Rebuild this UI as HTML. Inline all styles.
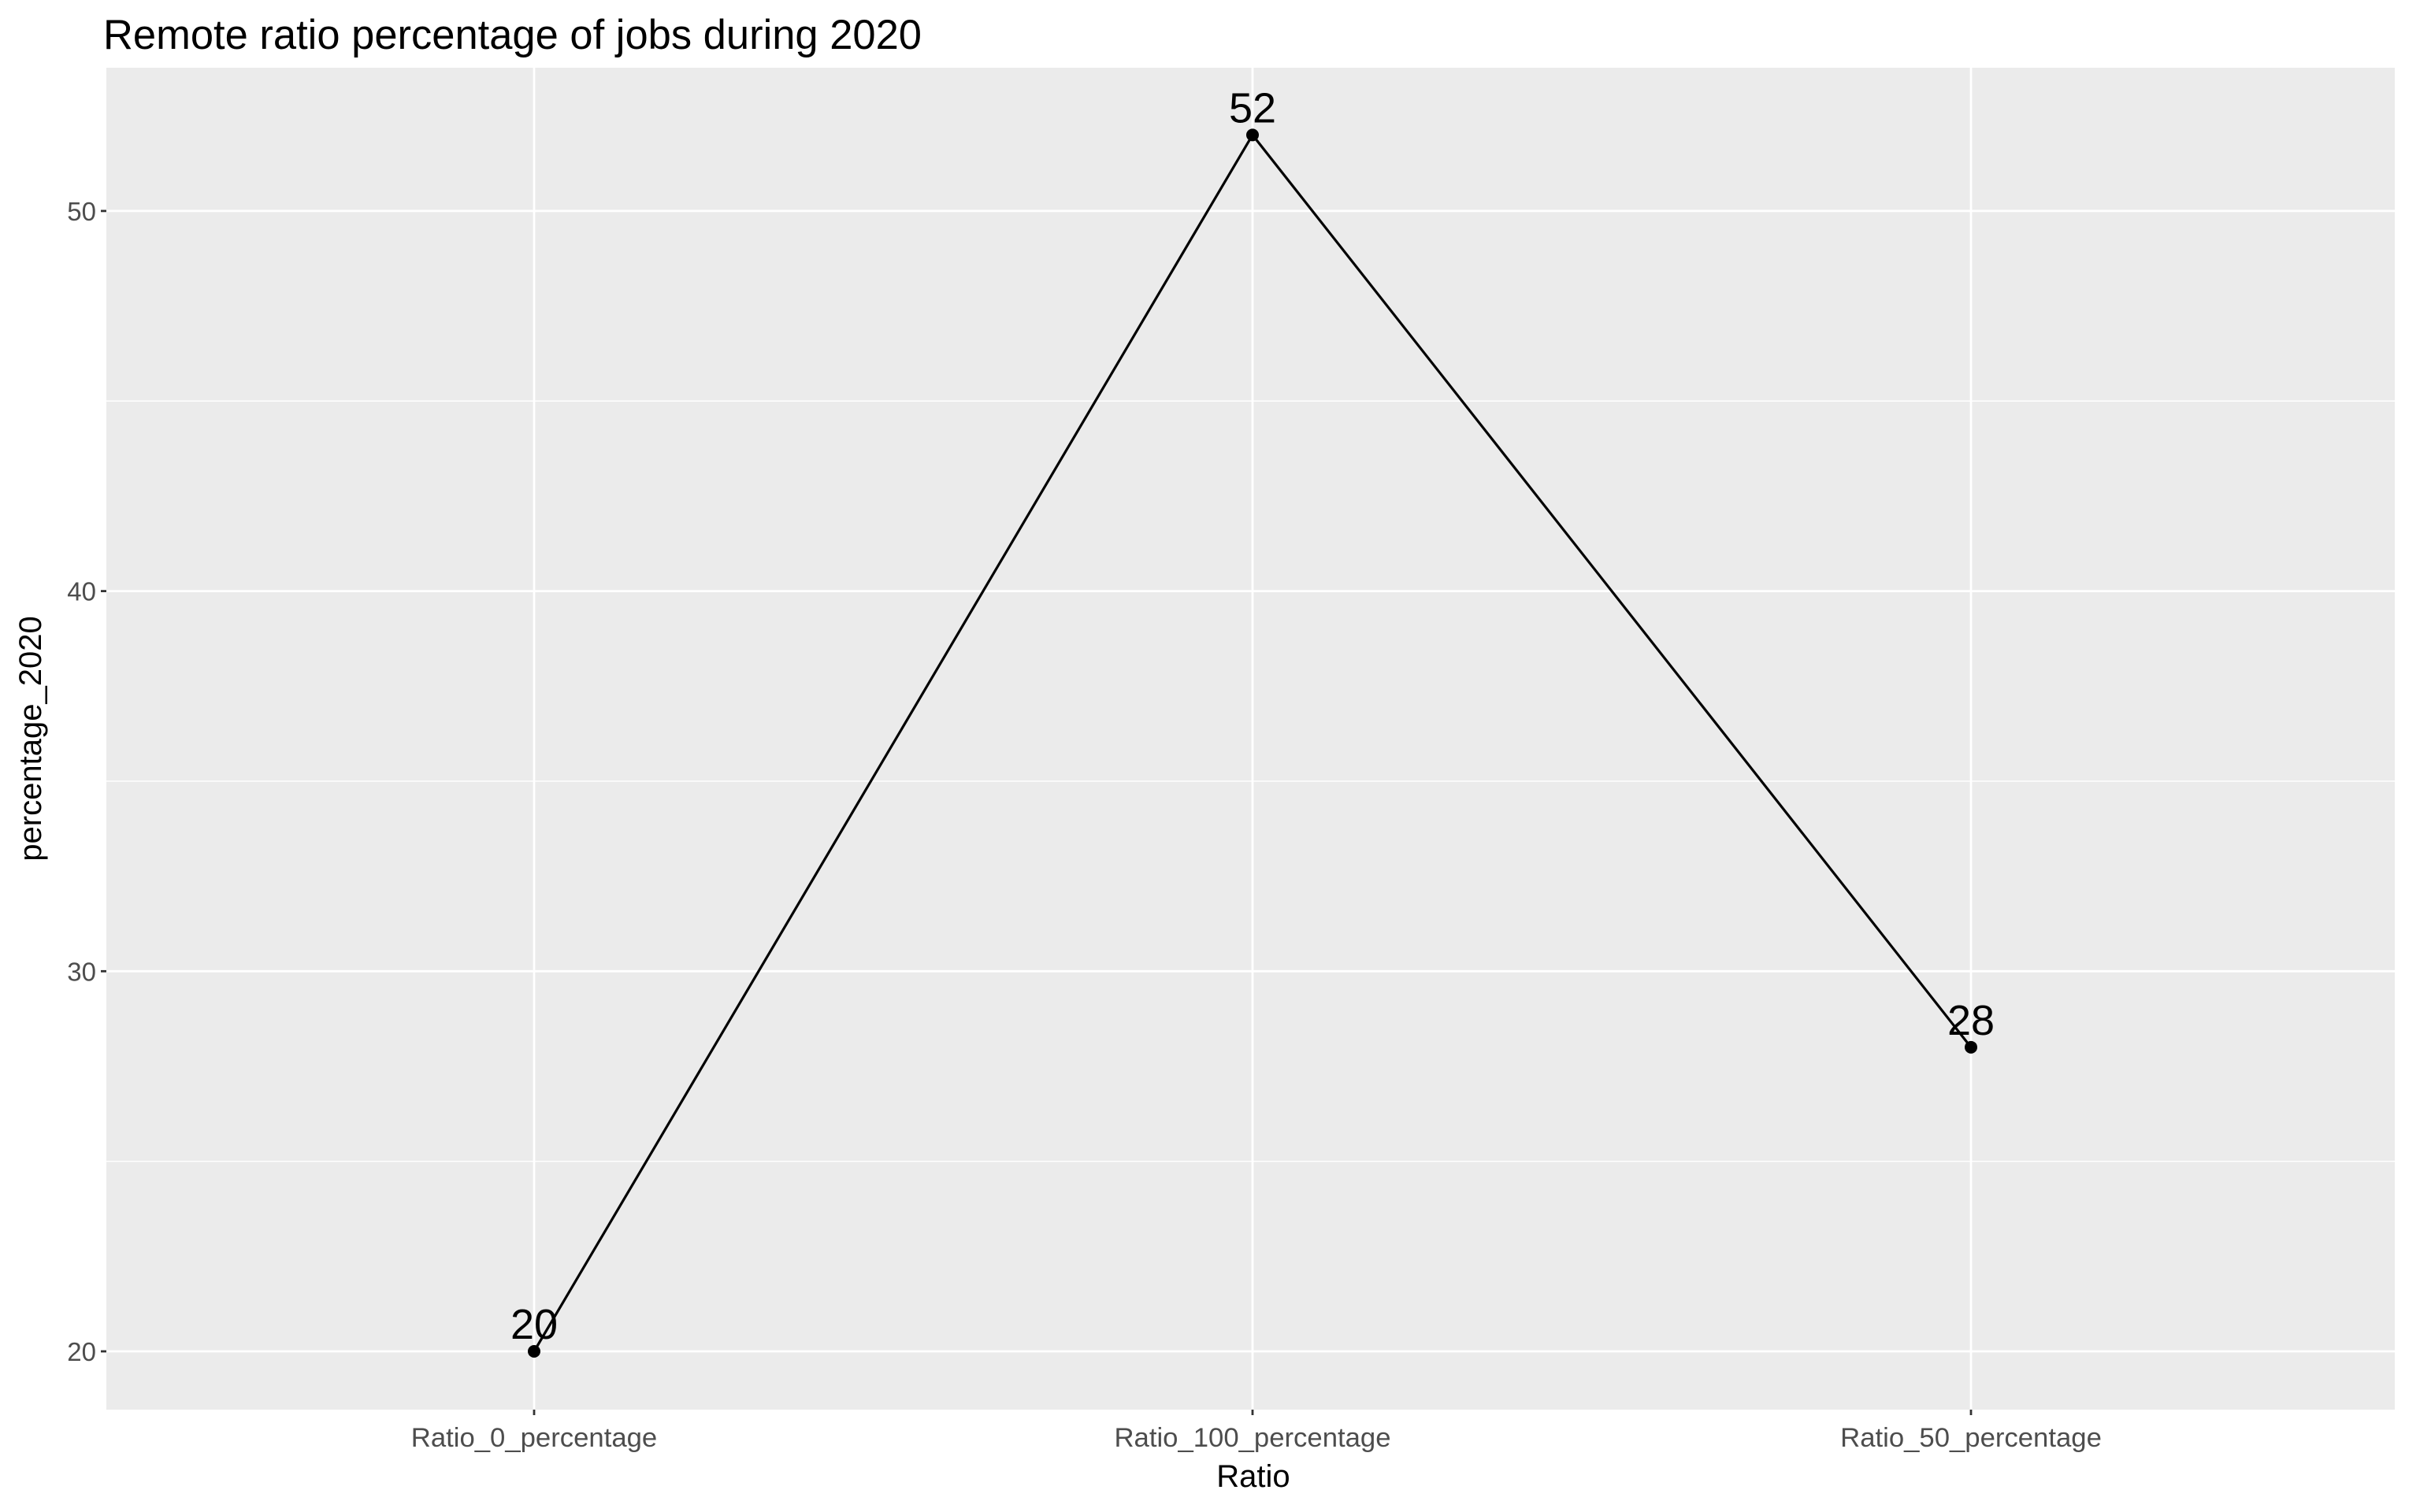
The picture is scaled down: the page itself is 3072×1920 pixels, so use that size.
<!DOCTYPE html>
<html><head><meta charset="utf-8"><style>
html,body{margin:0;padding:0;background:#fff}
svg{display:block;font-family:"Liberation Sans",Arial,sans-serif}
</style></head><body>
<svg id="chart" width="3072" height="1920" viewBox="0 0 3072 1920">
<text x="131" y="62" font-size="52.5" fill="#000">Remote ratio percentage of jobs during 2020</text>
<rect x="135" y="86" width="2905" height="1704" fill="#ebebeb"/>
<g id="grid"></g>
<g id="marks"></g>
<g id="axes"></g>
<text x="1591" y="1888" font-size="40" text-anchor="middle" fill="#000">Ratio</text>
<text transform="translate(52,938) rotate(-90)" font-size="40" text-anchor="middle" fill="#000">percentage_2020</text>
</svg>
<script>
const categories = ["Ratio_0_percentage","Ratio_100_percentage","Ratio_50_percentage"];
const values = [20, 52, 28];
const yTicks = [20, 30, 40, 50];
const yMinor = [25, 35, 45];
const NS="http://www.w3.org/2000/svg";
const L=135,R=3040,T=86,B=1790;
function y(v){return 1716-(v-20)*48.27;}
function x(i){return 678+i*912;}
function mk(tag,attrs,parent){const e=document.createElementNS(NS,tag);for(const k in attrs)e.setAttribute(k,attrs[k]);parent.appendChild(e);return e;}
const grid=document.getElementById('grid'),marks=document.getElementById('marks'),axes=document.getElementById('axes');
yMinor.forEach(v=>{const l=mk('line',{x1:L,x2:R,y1:y(v),y2:y(v),stroke:'#fff','stroke-width':1.4},grid);

});
yTicks.forEach(v=>{const l=mk('line',{x1:L,x2:R,y1:y(v),y2:y(v),stroke:'#fff','stroke-width':2.8},grid);


const t=mk('line',{x1:L-7,x2:L,y1:y(v),y2:y(v),stroke:'#333','stroke-width':2.8},axes);


const tx=mk('text',{x:L-13,y:y(v)+12,'font-size':33,'text-anchor':'end',fill:'#4d4d4d'},axes);tx.textContent=v;

});
categories.forEach((c,i)=>{const l=mk('line',{x1:x(i),x2:x(i),y1:T,y2:B,stroke:'#fff','stroke-width':2.8},grid);


const t=mk('line',{x1:x(i),x2:x(i),y1:B,y2:B+7,stroke:'#333','stroke-width':2.8},axes);


const tx=mk('text',{x:x(i),y:B+47,'font-size':34.7,'text-anchor':'middle',fill:'#4d4d4d'},axes);tx.textContent=c;

});
const pl=mk('polyline',{points:values.map((v,i)=>x(i)+','+y(v)).join(' '),fill:'none',stroke:'#000','stroke-width':3.2},marks);


values.forEach((v,i)=>{const p=mk('circle',{cx:x(i),cy:y(v),r:8,fill:'#000'},marks);


const t=mk('text',{x:x(i),y:y(v)-16,'font-size':54,'text-anchor':'middle',fill:'#000'},marks);t.textContent=v;

});
</script>
</body></html>
